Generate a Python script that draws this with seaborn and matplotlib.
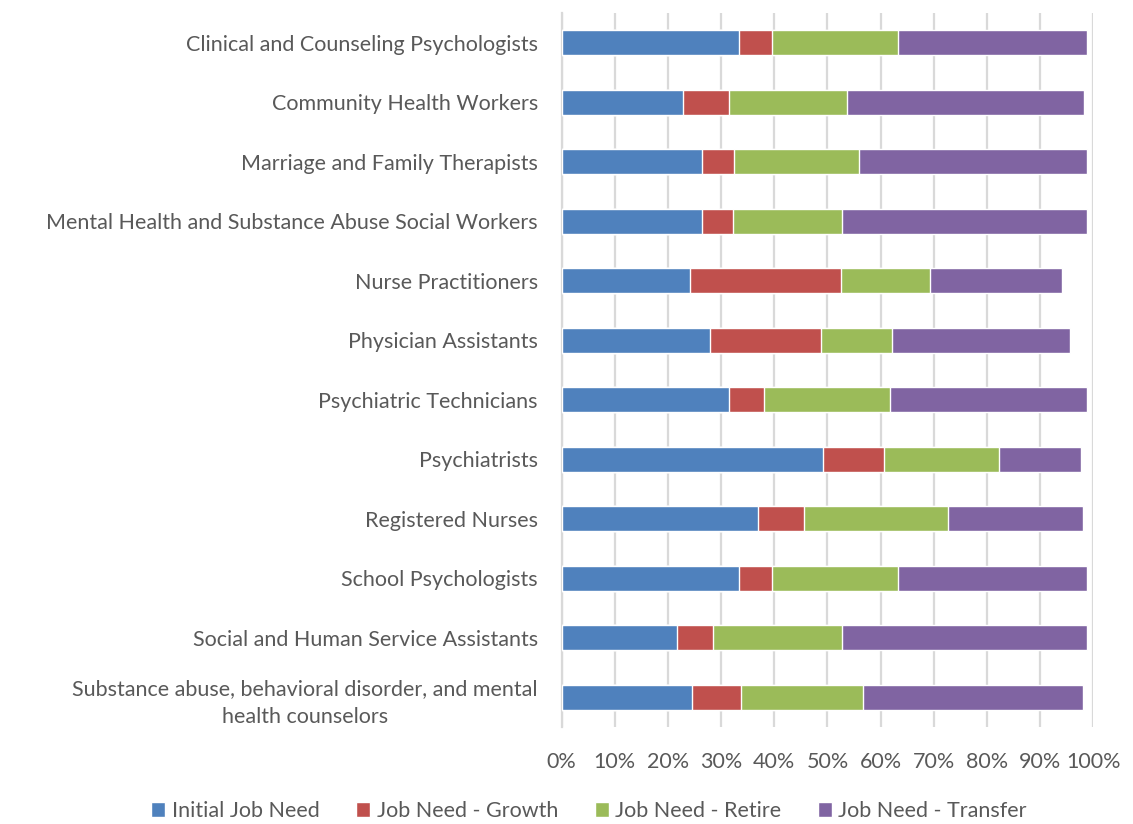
import pandas as pd
import seaborn as sns
import matplotlib.pyplot as plt
from matplotlib.patches import Patch
from matplotlib.ticker import PercentFormatter

# occupations, top to bottom
occupations = [
    'Clinical and Counseling Psychologists',
    'Community Health Workers',
    'Marriage and Family Therapists',
    'Mental Health and Substance Abuse Social Workers',
    'Nurse Practitioners',
    'Physician Assistants',
    'Psychiatric Technicians',
    'Psychiatrists',
    'Registered Nurses',
    'School Psychologists',
    'Social and Human Service Assistants',
    'Substance abuse, behavioral disorder, and mental\nhealth counselors',
]

# share of total job need (%)
initial = [33.4, 22.8, 26.4, 26.5, 24.2, 28.0, 31.5, 49.2, 36.9, 33.4, 21.8, 24.6]
growth = [6.2, 8.6, 6.0, 5.7, 28.4, 20.8, 6.6, 11.4, 8.7, 6.2, 6.6, 9.2]
retire = [23.7, 22.2, 23.6, 20.6, 16.6, 13.3, 23.6, 21.7, 27.1, 23.7, 24.4, 22.8]
transfer = [35.5, 44.6, 42.8, 46.0, 24.9, 33.5, 37.0, 15.3, 25.4, 35.5, 45.9, 41.4]

series = ['Initial Job Need', 'Job Need - Growth', 'Job Need - Retire', 'Job Need - Transfer']
colors = ['#4F81BD', '#C0504D', '#9BBB59', '#8064A2']

df = pd.DataFrame({'Occupation': occupations, 'Initial Job Need': initial,
                   'Job Need - Growth': growth, 'Job Need - Retire': retire,
                   'Job Need - Transfer': transfer})
# cumulative share so the bars can be stacked by overlaying
cum = df[series].cumsum(axis=1) / 100
cum['Occupation'] = df['Occupation']

sns.set_style('white')
plt.rcParams['font.family'] = ['Lato', 'DejaVu Sans']
text_color = '#595959'
fs = 15.5

fig, ax = plt.subplots(figsize=(11.33, 8.24), dpi=100)

# draw from the largest cumulative value down
for name, c in reversed(list(zip(series, colors))):
    sns.barplot(data=cum, x=name, y='Occupation', color=c, width=0.42,
                saturation=1, orient='h', ax=ax, zorder=3)

ax.set_xlim(0, 1)
ax.set_xticks([i / 10 for i in range(11)])
ax.xaxis.set_major_formatter(PercentFormatter(1.0, decimals=0))
ax.grid(axis='x', color='#D9D9D9', linewidth=1.6, zorder=0)
ax.set_axisbelow(True)
ax.set_xlabel('')
ax.set_ylabel('')
for s in ['top', 'right', 'bottom']:
    ax.spines[s].set_visible(False)
ax.spines['left'].set_color('#D9D9D9')
ax.spines['left'].set_linewidth(1.6)
ax.tick_params(axis='both', length=0, labelsize=fs, labelcolor=text_color)
ax.tick_params(axis='y', pad=17)
ax.tick_params(axis='x', pad=18)
for lab in ax.get_yticklabels():
    lab.set_multialignment('center')
    lab.set_linespacing(1.5)

handles = [Patch(facecolor=c, label=n) for n, c in zip(series, colors)]
fig.legend(handles=handles, loc='lower center', ncol=4, frameon=False,
           fontsize=fs, labelcolor=text_color, handlelength=0.65,
           handleheight=0.65, handletextpad=0.3, columnspacing=1.7,
           bbox_to_anchor=(0.52, -0.02))

fig.subplots_adjust(left=0.4956, right=0.9651, top=0.984, bottom=0.118)
fig.savefig('out.png', dpi=100)
